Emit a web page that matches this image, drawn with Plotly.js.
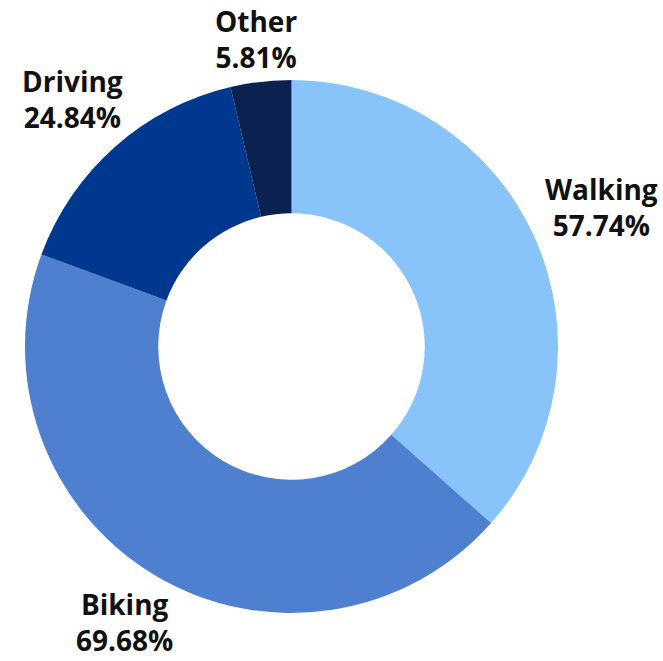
<!DOCTYPE html>
<html>
<head>
<meta charset="utf-8">
<script src="https://cdn.plot.ly/plotly-3.0.1.min.js"></script>
<style>
  html, body { margin: 0; padding: 0; background: #ffffff; }
  #chart { width: 663px; height: 661px; }
</style>
</head>
<body>
<div id="chart"></div>
<script>
const categories = ["Walking", "Biking", "Driving", "Other"];
const values = [57.74, 69.68, 24.84, 5.81];
const colors = ["#88C3FA", "#4F80CF", "#00378F", "#0B2150"];

const labelFont = { family: "Open Sans, Lato, sans-serif", size: 28, color: "#111111" };
const labelGap = 10;

const trace = {
  type: "pie",
  labels: categories,
  values: values,
  hole: 0.5,
  sort: false,
  direction: "clockwise",
  rotation: 0,
  marker: { colors: colors, line: { width: 0 } },
  textinfo: "none",
  hoverinfo: "label+value",
  showlegend: false,
  automargin: false
};

const layout = {
  width: 663,
  height: 661,
  margin: { l: 25, r: 105, t: 80, b: 48, pad: 0 },
  paper_bgcolor: "#ffffff",
  plot_bgcolor: "#ffffff",
  showlegend: false
};

function labelText(i) {
  return "<b>" + categories[i] + "</b><br><b>" + values[i].toFixed(2) + "%</b>";
}

const gd = document.getElementById("chart");
Plotly.newPlot(gd, [trace], layout, { displayModeBar: false, staticPlot: true }).then(function () {
  const cd0 = gd.calcdata[0][0];
  const fl = gd._fullLayout;
  const sz = fl._size;
  const r = cd0.r, cx = cd0.cx, cy = cd0.cy;
  const canvas = document.createElement("canvas");
  const ctx = canvas.getContext("2d");
  ctx.font = "bold " + labelFont.size + "px 'Open Sans'";
  const total = values.reduce(function (a, b) { return a + b; }, 0);
  const boxHalfH = labelFont.size * 1.3 + 3;
  let cum = 0;
  const annotations = values.map(function (v, i) {
    const theta = 2 * Math.PI * (cum + v / 2) / total;
    cum += v;
    const s = Math.sin(theta), c = Math.cos(theta);
    const w = Math.max(ctx.measureText(categories[i]).width,
                       ctx.measureText(values[i].toFixed(2) + "%").width);
    const h = labelFont.size * (1.3 + 0.72);
    const d = r + labelGap + Math.abs(s) * w / 2 + Math.abs(c) * h / 2;
    let px = cx + d * s;
    let py = cy - d * c;
    // keep the whole label box inside the page
    py = Math.min(Math.max(py, boxHalfH), fl.height - boxHalfH);
    px = Math.min(Math.max(px, w / 2 + 2), fl.width - w / 2 - 2);
    return {
      xref: "paper", yref: "paper",
      x: (px - sz.l) / sz.w,
      y: 1 - (py - sz.t) / sz.h,
      xanchor: "center", yanchor: "middle",
      align: "center",
      showarrow: false,
      text: labelText(i),
      font: labelFont
    };
  });
  return Plotly.relayout(gd, { annotations: annotations });
});
</script>
</body>
</html>
